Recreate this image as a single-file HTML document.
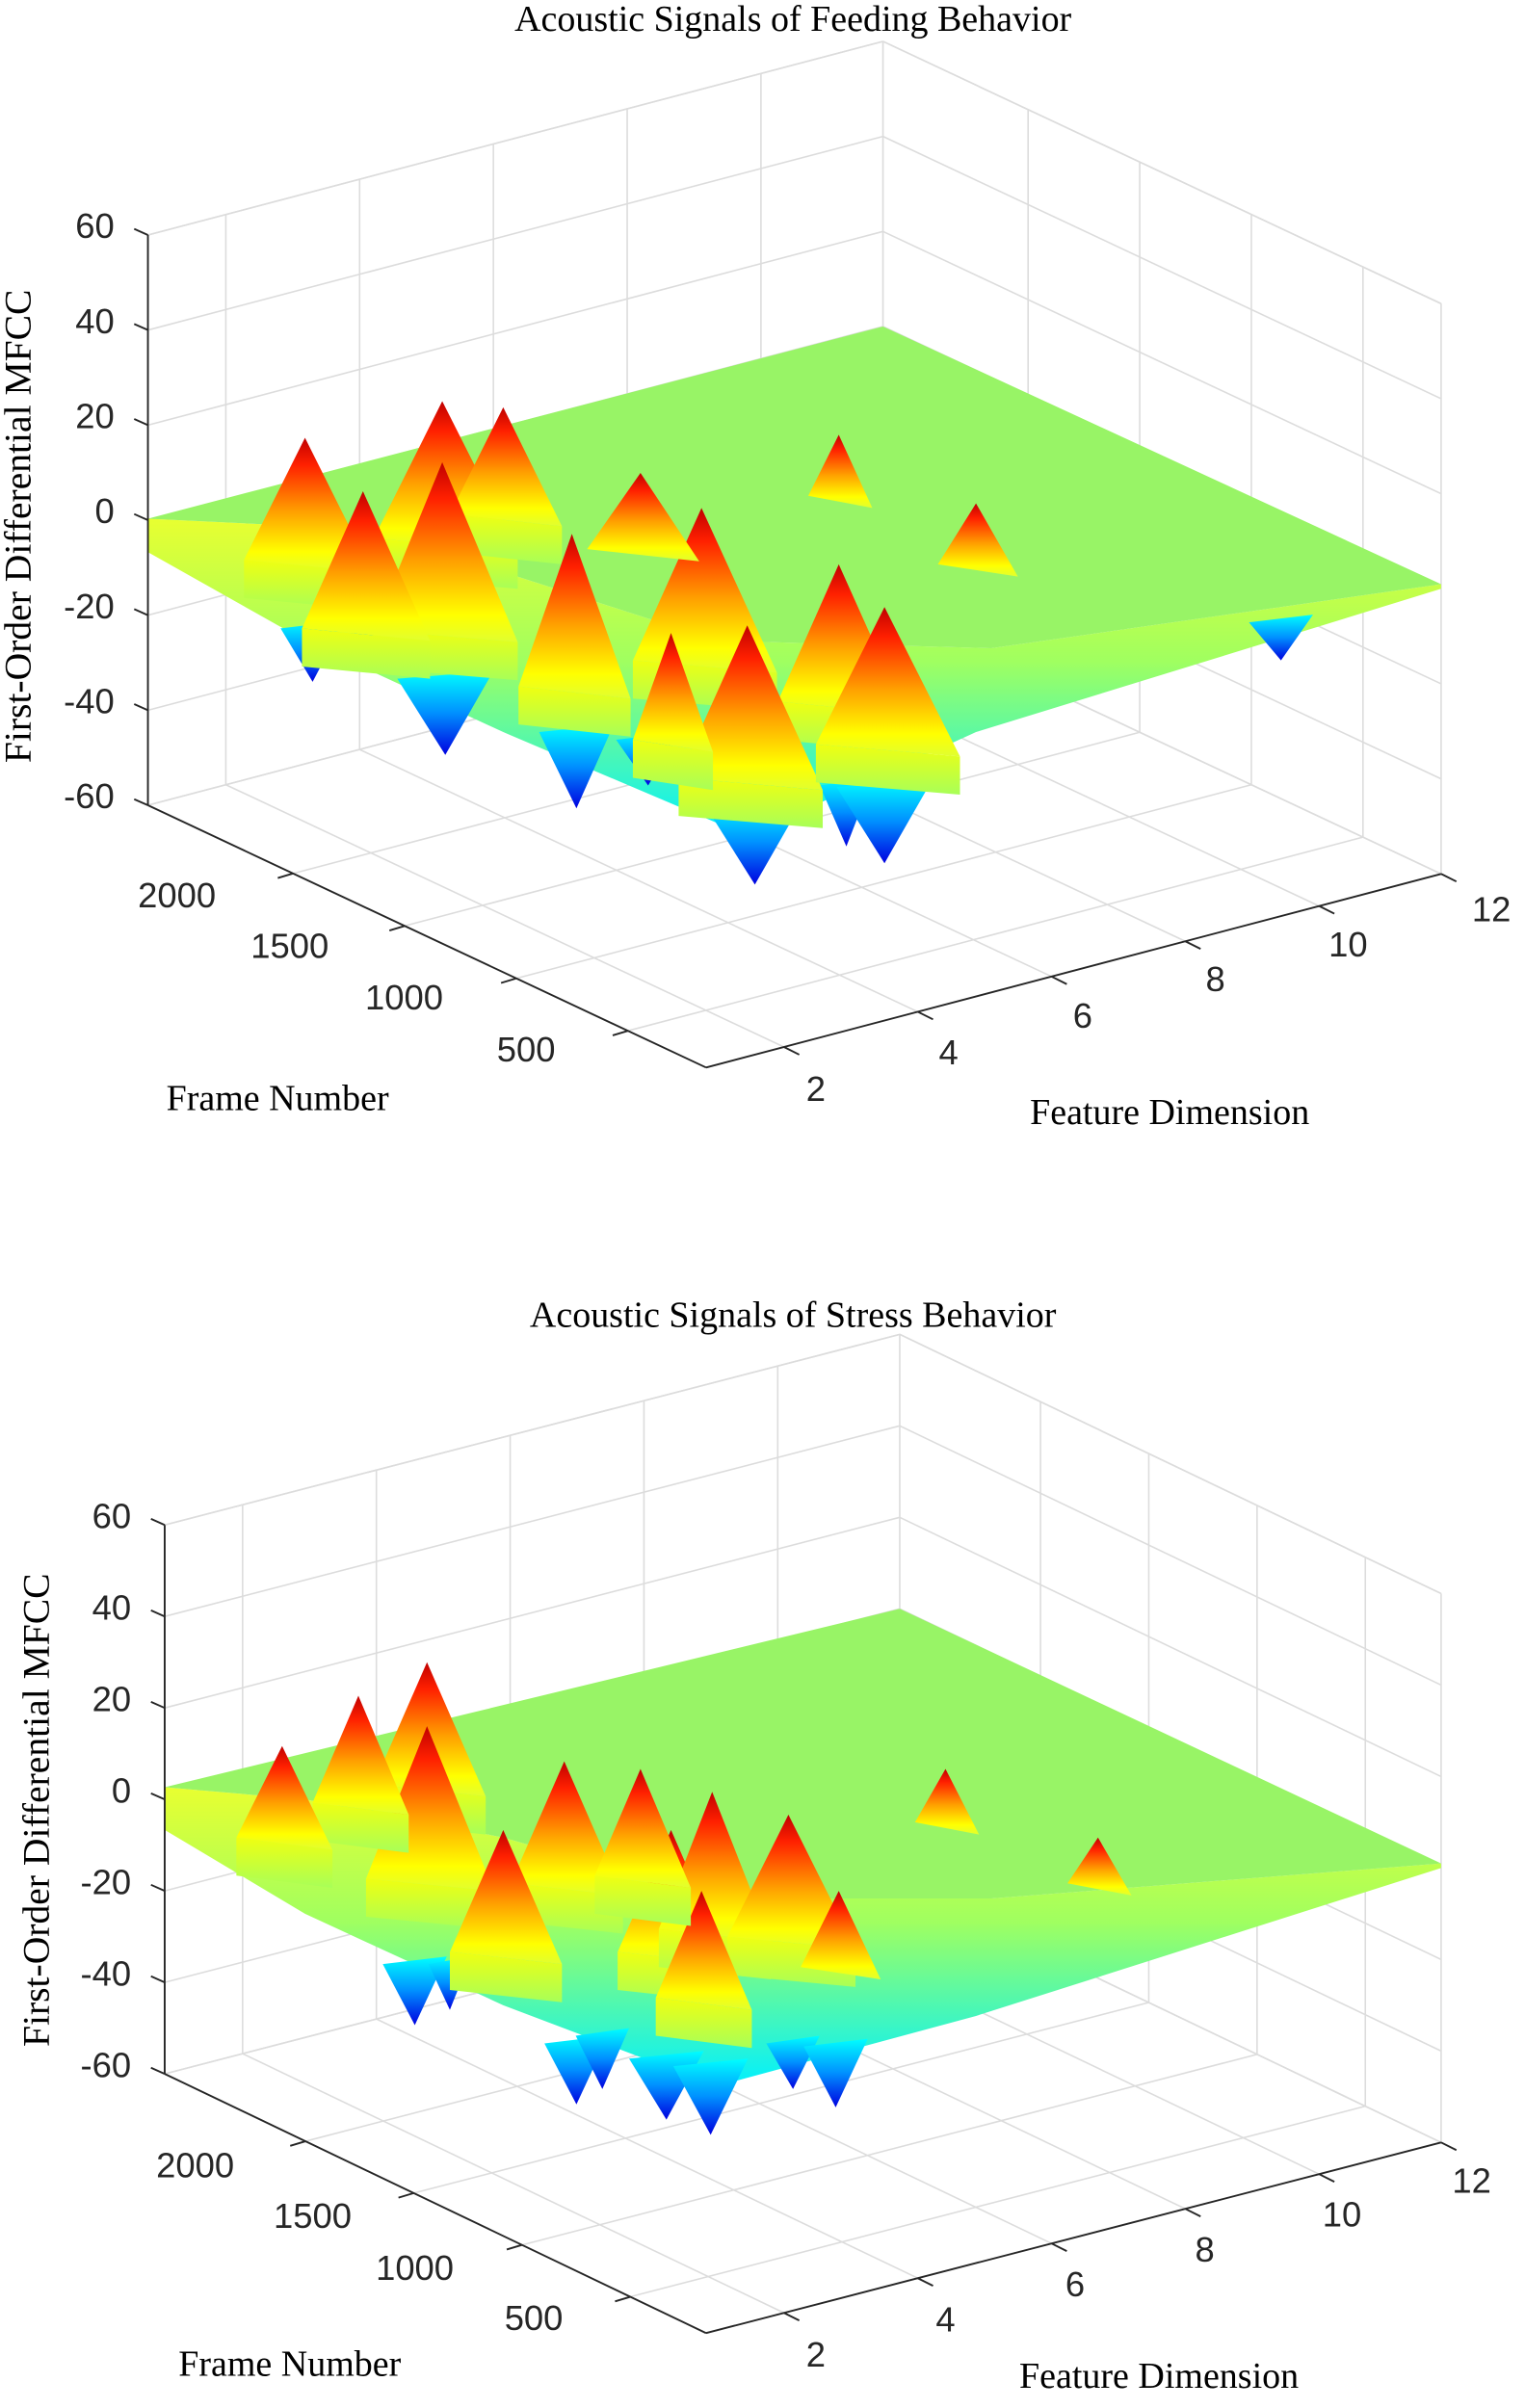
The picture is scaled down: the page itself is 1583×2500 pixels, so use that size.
<!DOCTYPE html>
<html><head><meta charset="utf-8"><style>
html,body{margin:0;padding:0;background:#fff}
svg{display:block}
text{font-family:"Liberation Sans",Arial,sans-serif;fill:#262626}
.t{font-family:"Liberation Serif","Times New Roman",serif;fill:#000}
</style></head><body>
<svg id="s" width="1583" height="2500" viewBox="0 0 1000 1579" xmlns="http://www.w3.org/2000/svg">
<defs>
<linearGradient id="pk" x1="0" y1="0" x2="0" y2="1"><stop offset="0" stop-color="#c00000"/><stop offset="0.2" stop-color="#ff2000"/><stop offset="0.55" stop-color="#ffa000"/><stop offset="0.85" stop-color="#ffff00"/><stop offset="1" stop-color="#e0ff30"/></linearGradient>
<linearGradient id="vl" x1="0" y1="0" x2="0" y2="1"><stop offset="0" stop-color="#00ffff"/><stop offset="0.5" stop-color="#0090ff"/><stop offset="1" stop-color="#0000e0"/></linearGradient>
<linearGradient id="cu" x1="0" y1="0" x2="0" y2="1"><stop offset="0" stop-color="#e8ff30"/><stop offset="0.45" stop-color="#a0ff60"/><stop offset="1" stop-color="#00f0ff"/></linearGradient>
<linearGradient id="sk" x1="0" y1="0" x2="0" y2="1"><stop offset="0" stop-color="#f0ff10"/><stop offset="1" stop-color="#a8ff58"/></linearGradient>
</defs>
<g id="g"></g>
</svg>
<script>
var NS="http://www.w3.org/2000/svg",G=document.getElementById("g");
function el(t,a,txt){var e=document.createElementNS(NS,t);for(var k in a)e.setAttribute(k,a[k]);if(txt!==undefined)e.textContent=txt;G.appendChild(e);return e;}
function line(a,b,c,w){el("line",{x1:a[0],y1:a[1],x2:b[0],y2:b[1],stroke:c,"stroke-width":w});}
function poly(p,f,o){el("polygon",{points:p.map(function(q){return q.join(",")}).join(" "),fill:f,opacity:o||1});}
function add(a,b){return [a[0]+b[0],a[1]+b[1]];}
function lerp(a,b,t){return [a[0]+(b[0]-a[0])*t,a[1]+(b[1]-a[1])*t];}
function chart(c){
 var L=c.L,F=c.F,R=c.R,B=[L[0]+R[0]-F[0],L[1]+R[1]-F[1]],H=c.H,up=[0,-H];
 var LT=add(L,up),BT=add(B,up),RT=add(R,up);
 var gc="#dcdcdc";
 for(var i=0;i<=6;i++){var z=i/6;line(lerp(L,LT,z),lerp(B,BT,z),gc,1);line(lerp(B,BT,z),lerp(R,RT,z),gc,1);}
 var fx=[0.106,0.288,0.47,0.652,0.834];
 for(var i=0;i<fx.length;i++){var p=lerp(L,B,fx[i]);line(p,add(p,up),gc,1);line(p,lerp(F,R,fx[i]),gc,1);}
 var rx=[0.14,0.34,0.54,0.74];
 for(var i=0;i<rx.length;i++){var p=lerp(R,B,rx[i]);line(p,add(p,up),gc,1);line(lerp(F,L,rx[i]),p,gc,1);}
 line(B,BT,gc,1);line(LT,BT,gc,1);line(BT,RT,gc,1);line(R,RT,gc,1);line(L,B,gc,1);line(B,R,gc,1);
 var PB=add(B,[0,-H*0.5]);
 var top=c.top,bot=c.bot;
 poly(top.concat(bot.slice().reverse()),"url(#cu)");
 c.val.forEach(function(v){var w=v[2]*0.7;poly([[v[0]-w,v[1]-v[3]],[v[0]+w,v[1]-v[3]-5],[v[0],v[1]]],"url(#vl)");});
 poly(top.concat([PB]),"#98f466");
 c.pk.forEach(function(v){var a=[v[0]-v[2],v[1]+v[3]],b=[v[0]+v[2]*1.1,v[1]+v[3]+8];
  if(v[3]>50)poly([a,b,[b[0],b[1]+25],[a[0],a[1]+25]],"url(#sk)");
  poly([a,[v[0],v[1]],b],"url(#pk)");});
 line(L,LT,"#262626",1.2);line(L,F,"#262626",1.2);line(F,R,"#262626",1.2);
 var zl=["-60","-40","-20","0","20","40","60"];
 for(var i=0;i<=6;i++){var p=lerp(L,LT,i/6);line(p,[p[0]-9,p[1]-4],"#262626",1.2);el("text",{x:p[0]-22,y:p[1]+2,"font-size":23,"text-anchor":"end"},zl[i]);}
 c.ft.forEach(function(t){var p=lerp(F,L,t[0]);line(p,[p[0]-10,p[1]+3],"#262626",1.2);el("text",{x:t[1],y:t[2],"font-size":23,"text-anchor":"middle"},t[3]);});
 c.xt.forEach(function(t){var p=lerp(F,R,t[0]);line(p,[p[0]+10,p[1]+5],"#262626",1.2);el("text",{x:t[1],y:t[2],"font-size":23,"text-anchor":"middle"},t[3]);});
 el("text",{x:c.title[0],y:c.title[1],"font-size":24,"text-anchor":"middle","class":"t"},c.title[2]);
 el("text",{x:c.fl[0],y:c.fl[1],"font-size":24,"text-anchor":"middle","class":"t"},"Frame Number");
 el("text",{x:c.xl[0],y:c.xl[1],"font-size":24,"text-anchor":"middle","class":"t"},"Feature Dimension");
 el("text",{x:0,y:0,"font-size":25,"text-anchor":"middle","class":"t",transform:"translate("+c.zl[0]+","+c.zl[1]+") rotate(-90)"},"First-Order Differential MFCC");
}
chart({L:[97,528],F:[463,700],R:[945,573],H:374,
 top:[[97,340],[200,345],[330,375],[470,420],[650,425],[945,383]],
 bot:[[97,362],[200,420],[330,480],[490,548],[640,480],[945,386]],
 val:[[205,447,30,35],[292,495,45,50],[378,530,35,50],[495,580,45,50],[555,555,25,40],[580,566,45,50],[245,440,25,30],[425,515,30,30],[840,433,30,25]],
 pk:[[200,287,40,80],[290,263,45,90],[330,267,35,70],[290,303,45,110],[238,322,40,90],[375,350,35,100],[460,333,45,100],[550,370,40,90],[490,410,45,100],[440,415,25,70],[580,398,45,90],[550,285,20,40],[640,330,25,40],[420,310,35,50]],
 ft:[[0.74,116,595,"2000"],[0.54,190,628,"1500"],[0.34,265,662,"1000"],[0.14,345,696,"500"]],
 xt:[[0.106,535,722,"2"],[0.288,622,698,"4"],[0.47,710,674,"6"],[0.652,797,650,"8"],[0.834,884,627,"10"],[1.0,978,604,"12"]],
 title:[520,20,"Acoustic Signals of Feeding Behavior"],fl:[182,728],xl:[767,737],zl:[20,345]});
chart({L:[108,1360],F:[463,1530],R:[945,1405],H:360,
 top:[[108,1172],[200,1180],[330,1205],[470,1245],[650,1245],[945,1222]],
 bot:[[108,1200],[200,1255],[330,1315],[470,1368],[640,1322],[945,1225]],
 val:[[272,1328,30,40],[295,1318,20,30],[378,1380,30,40],[437,1390,35,40],[466,1400,35,45],[520,1370,25,30],[548,1382,30,40],[395,1370,25,35]],
 pk:[[280,1090,35,80],[280,1132,40,100],[235,1112,30,70],[185,1145,30,60],[370,1155,35,80],[440,1200,35,80],[467,1175,35,90],[517,1190,40,80],[460,1240,30,70],[550,1240,25,50],[720,1205,20,30],[620,1160,20,35],[330,1200,35,80],[420,1160,30,70]],
 ft:[[0.74,128,1428,"2000"],[0.54,205,1461,"1500"],[0.34,272,1495,"1000"],[0.14,350,1528,"500"]],
 xt:[[0.106,535,1552,"2"],[0.288,620,1529,"4"],[0.47,705,1506,"6"],[0.652,790,1483,"8"],[0.834,880,1460,"10"],[1.0,965,1438,"12"]],
 title:[520,870,"Acoustic Signals of Stress Behavior"],fl:[190,1558],xl:[760,1566],zl:[32,1187]});
</script>
</body></html>
